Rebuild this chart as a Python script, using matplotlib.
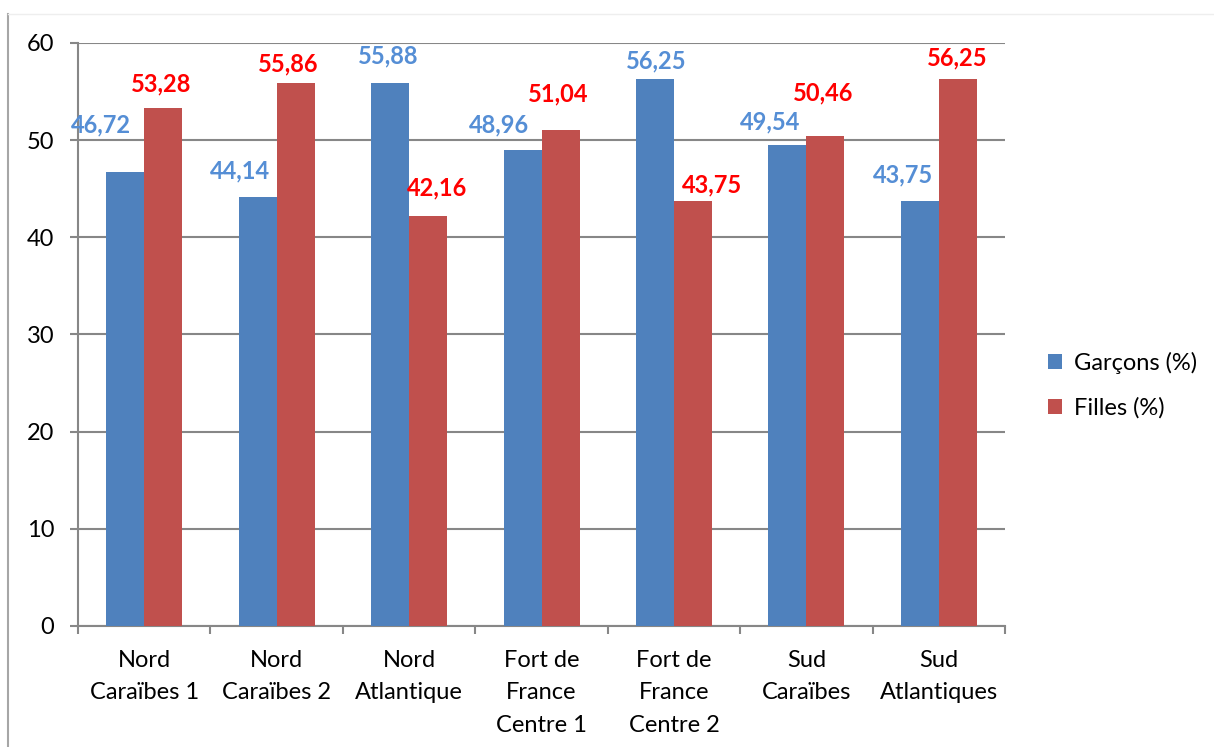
import numpy as np
import matplotlib.pyplot as plt
from matplotlib.lines import Line2D

# data
categories = ["Nord\nCaraïbes 1", "Nord\nCaraïbes 2", "Nord\nAtlantique",
              "Fort de\nFrance\nCentre 1", "Fort de\nFrance\nCentre 2",
              "Sud\nCaraïbes", "Sud\nAtlantiques"]
garcons = [46.72, 44.14, 55.88, 48.96, 56.25, 49.54, 43.75]
filles = [53.28, 55.86, 42.16, 51.04, 43.75, 50.46, 56.25]
garcons_labels = ["46,72", "44,14", "55,88", "48,96", "56,25", "49,54", "43,75"]
filles_labels = ["53,28", "55,86", "42,16", "51,04", "43,75", "50,46", "56,25"]

# label nudges (pixels, dx / dy above the bar top) -- labels were hand placed in the original
garcons_nudge = [(-24, 40), (-18, 19), (-2, 19), (-24, 18), (1, 11), (-17, 15), (-17, 18)]
filles_nudge = [(-2, 17), (-8, 12), (9, 21), (-2, 29), (19, 8), (-2, 35), (-1, 14)]

plt.rcParams['font.family'] = ['Lato', 'DejaVu Sans']

blue = '#4F81BD'
red = '#C0504D'
grid_col = '#878787'

fig = plt.figure(figsize=(12.14, 7.47), dpi=100)
ax = fig.add_axes([0.0643, 0.162, 0.7636, 0.7806])

x = np.arange(len(categories))
w = 0.287
ax.bar(x - w / 2, garcons, w, color=blue, label='Garçons (%)', zorder=3)
ax.bar(x + w / 2, filles, w, color=red, label='Filles (%)', zorder=3)

# data labels
for i in range(len(x)):
    ax.annotate(garcons_labels[i], (x[i] - w / 2, garcons[i]), xytext=garcons_nudge[i],
                textcoords='offset pixels', ha='center', va='baseline',
                color='#558ED5', fontsize=17, fontweight='bold', zorder=5)
    ax.annotate(filles_labels[i], (x[i] + w / 2, filles[i]), xytext=filles_nudge[i],
                textcoords='offset pixels', ha='center', va='baseline',
                color='#FF0000', fontsize=17, fontweight='bold', zorder=5)

ax.set_xlim(-0.5, len(categories) - 0.5)
ax.set_ylim(0, 60)
ax.set_yticks(range(0, 61, 10))
ax.yaxis.grid(True, color=grid_col, linewidth=1.5, zorder=0)
ax.set_axisbelow(True)

ax.set_xticks(x)
ax.set_xticklabels(categories, fontsize=17, linespacing=1.7)
ax.set_xticks(np.arange(-0.5, len(categories), 1), minor=True)
ax.tick_params(axis='x', which='major', length=0, pad=17)
ax.tick_params(axis='x', which='minor', length=6, width=1.5, color=grid_col, direction='out')
ax.tick_params(axis='y', length=6, width=1.5, color=grid_col, labelsize=17, pad=11)

for s in ['top', 'right']:
    ax.spines[s].set_visible(False)
for s in ['left', 'bottom']:
    ax.spines[s].set_color(grid_col)
    ax.spines[s].set_linewidth(1.5)

leg = fig.legend(loc='center left', bbox_to_anchor=(0.846, 0.484), frameon=False,
                 fontsize=17, handlelength=0.6, handleheight=0.6, labelspacing=1.0,
                 handletextpad=0.5)

# outer frame lines
fig.add_artist(Line2D([8 / 1214, 8 / 1214], [0, 1 - 14 / 747], color='#A6A6A6', linewidth=1.5))
fig.add_artist(Line2D([8 / 1214, 1], [1 - 14 / 747, 1 - 14 / 747], color='#EEEEEE', linewidth=1))

fig.savefig('out.png', dpi=100)
